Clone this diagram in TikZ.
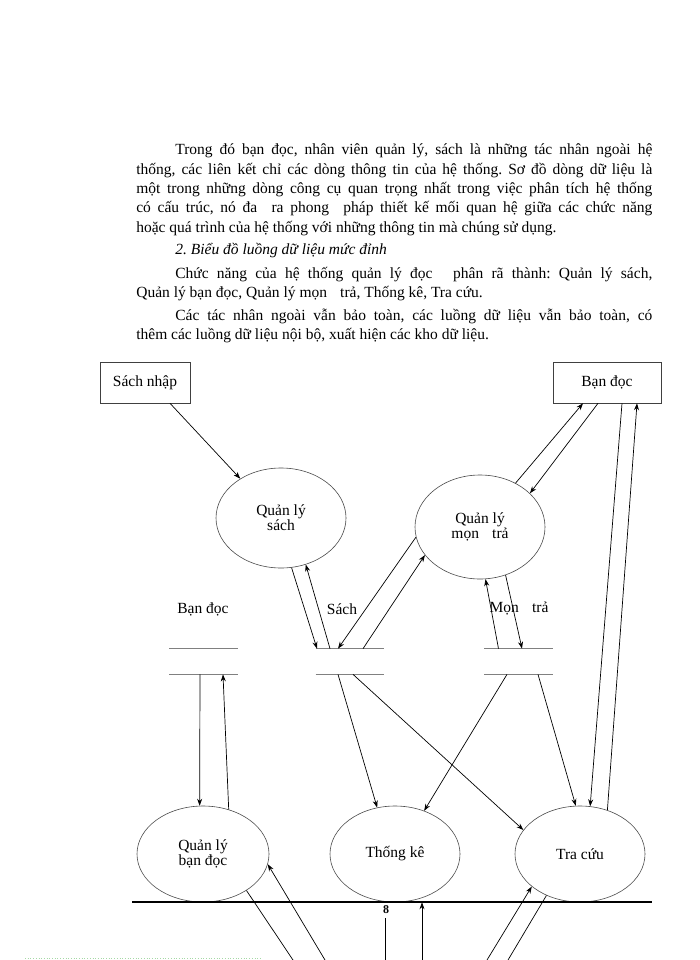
\documentclass[tikz,border=0pt]{standalone}
\usepackage{fontspec}
\setmainfont{Liberation Serif}
\usetikzlibrary{arrows.meta,shapes.geometric}
\frenchspacing

\newcommand{\bodysize}{\fontsize{15.5}{19.3}\selectfont}
\newcommand{\figsize}{\fontsize{15.5}{15}\selectfont}

\begin{document}
\begin{tikzpicture}[x=1pt,y=-1pt,->,>={Stealth[length=7pt,width=5pt]},line width=0.7pt,
        proc/.style={ellipse,draw=black!70,line width=0.6pt,minimum width=130pt,
          minimum height=100pt,inner sep=0pt,align=center,font=\figsize},
        extern/.style={rectangle,draw=black!75,line width=0.6pt,minimum width=90pt,
          minimum height=41pt,font=\figsize},
        store/.style={rectangle,minimum width=68pt,minimum height=25pt,inner sep=0pt},
        storeline/.style={-,draw=black!50,line width=1.3pt},
        para/.style={anchor=base west,text width=516pt,align=justify,inner sep=0pt,
          font=\bodysize}]

  \useasboundingbox[fill=white] (0,0) rectangle (700,960);

  % text above the diagram
  \node[para] (p1) at (136,155) {\hspace*{39pt}Trong đó bạn đọc, nhân viên quản lý, sách là những tác nhân ngoài hệ\linebreak
    thống, các liên kết chỉ các dòng thông tin của hệ thống. Sơ đồ dòng dữ liệu là\linebreak
    một trong những dòng công cụ quan trọng nhất trong việc phân tích hệ thống\linebreak
    có cấu trúc, nó đa\hspace{0.5em} ra phong\hspace{0.5em} pháp thiết kế mối quan hệ giữa các chức năng\linebreak
    hoặc quá trình của hệ thống với những thông tin mà chúng sử dụng.};
  \node[para] (h2) at (136,254) {\hspace*{39pt}\itshape 2. Biểu đồ luồng dữ liệu mức đỉnh};
  \node[para] (p2) at (136,278) {\hspace*{39pt}Chức năng của hệ thống quản lý đọc\hspace{0.8em} phân rã thành: Quản lý sách,\linebreak
    Quản lý bạn đọc, Quản lý mọn\hspace{0.6em} trả, Thống kê, Tra cứu.};
  \node[para] (p3) at (136,320) {\hspace*{39pt}Các tác nhân ngoài vẫn bảo toàn, các luồng dữ liệu vẫn bảo toàn, có\linebreak
    thêm các luồng dữ liệu nội bộ, xuất hiện các kho dữ liệu.};

  % external agents and processes
  \node[extern] (sn) at (145,382.5) {Sách nhập};
  \node[extern,minimum width=108pt] (bd) at (607,382.5) {Bạn đọc};
  \node[proc] (qls) at (281,518) {Quản lý\\sách};
  \node[proc,minimum height=104pt] (qlm) at (480,527) {Quản lý\\mọn\hspace{0.6em} trả};

  % data stores
  \node[store] (sb) at (203.5,661.5) {};
  \node[store] (ss) at (350,661.5) {};
  \node[store] (sm) at (518.5,661.5) {};
  \node[font=\figsize] (sbl) at (203,609) {Bạn đọc};
  \node[font=\figsize] (ssl) at (342,609) {Sách};
  \node[font=\figsize] (sml) at (519,609) {Mọn\hspace{0.6em} trả};
  \draw[storeline] (sb.north west) -- (sb.north east) (sb.south west) -- (sb.south east);
  \draw[storeline] (ss.north west) -- (ss.north east) (ss.south west) -- (ss.south east);
  \draw[storeline] (sm.north west) -- (sm.north east) (sm.south west) -- (sm.south east);

  \node[proc,minimum width=132pt,minimum height=96pt] (qlb) at (203,854) {Quản lý\\bạn đọc};
  \node[proc,minimum height=96pt] (tk) at (395,854) {Thống kê};
  \node[proc,minimum height=96pt] (tc) at (580,854) {Tra cứu};

  \path ([xshift=25pt]sn.south) edge (qls.136)
        (qlm.51) edge ([xshift=-24pt]bd.south)
        ([xshift=-9pt]bd.south) edge (qlm.34)
        ([xshift=15pt]bd.south) edge (tc.78)
        (tc.58) edge ([xshift=30pt]bd.south)
        (qls.282) edge ([xshift=-33pt]ss.north)
        ([xshift=-20pt]ss.north) edge (qls.298)
        (qlm.189) edge ([xshift=-12pt]ss.north)
        ([xshift=13pt]ss.north) edge (qlm.207)
        ([xshift=-20pt]sm.north) edge (qlm.276)
        (qlm.298) edge ([xshift=3.5pt]sm.north)
        ([xshift=-3.5pt]sb.south) edge (qlb.94)
        (qlb.60) edge ([xshift=19.5pt]sb.south)
        ([xshift=-12pt]ss.south) edge (tk.111)
        ([xshift=3pt]ss.south) edge (tc.157)
        ([xshift=-11.5pt]sm.south) edge (tk.56)
        ([xshift=19.5pt]sm.south) edge (tc.95);

  % page break
  \draw[-,line width=1.6pt] (132,902) -- (652,902);
  \node[font=\fontsize{12}{12}\selectfont\bfseries] (pg) at (386,910) {8};
  \draw[-,dotted,green!40!gray!50] (25,958.5) -- (262,958.5);

  \coordinate (b1) at (293,960);
  \coordinate (b2) at (325,960);
  \coordinate (b3) at (385,960);
  \coordinate (b4) at (422,960);
  \coordinate (b5) at (487,960);
  \coordinate (b6) at (508,960);
  \path (qlb.320) edge [-] (b1)
        (b2) edge (qlb.351)
        (b4) edge ([xshift=27pt]tk.south)
        (b5) edge (tc.214)
        (tc.231) edge [-] (b6);
  \draw[-] ([xshift=-10pt,yshift=-16pt]tk.south) -- (b3);

\end{tikzpicture}
\end{document}
